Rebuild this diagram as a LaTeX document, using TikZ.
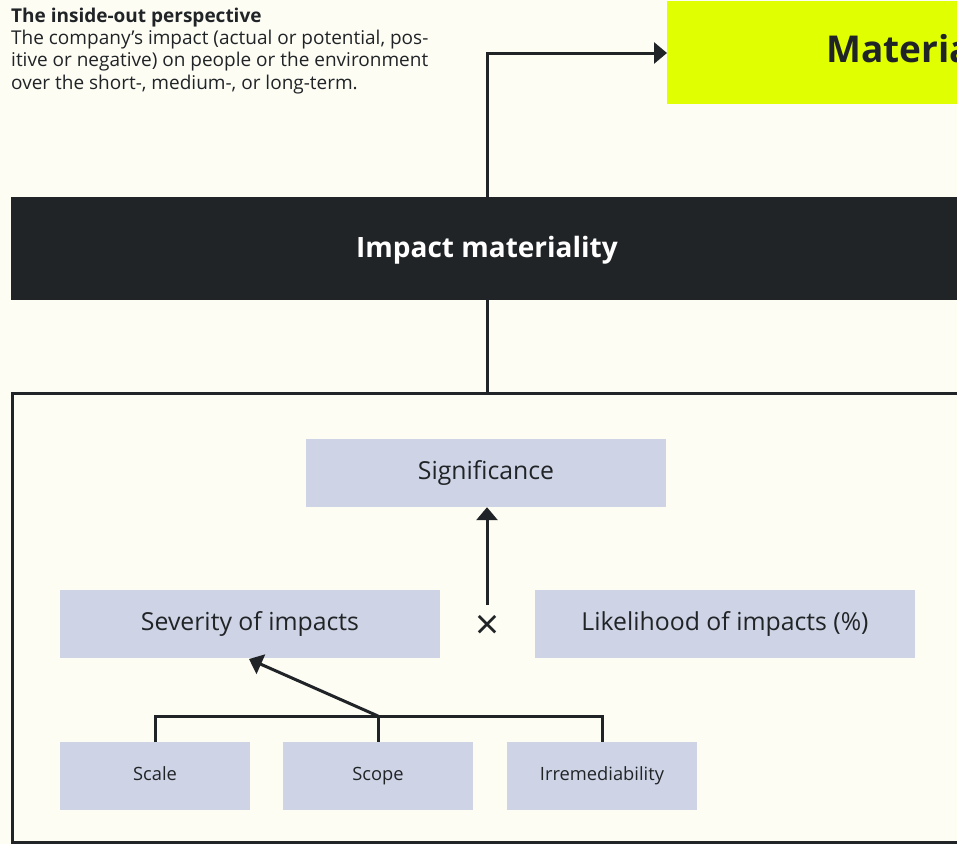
\documentclass[tikz,border=0pt]{standalone}
\usepackage{fontspec}
\setmainfont{Open Sans}
\usetikzlibrary{arrows.meta}
\definecolor{bg}{HTML}{FDFDF4}
\definecolor{ink}{HTML}{212427}
\definecolor{lime}{HTML}{E0FF00}
\definecolor{pale}{HTML}{CED4E5}
\tikzset{
  conn/.style={draw=ink, line width=3pt},
  arr/.style={conn, -{Triangle[length=13pt,width=21pt]}},
  boxA/.style={fill=pale, inner sep=0pt, font=\fontsize{24.8}{28}\selectfont, text=ink, text height=18pt, text depth=5pt},
  boxB/.style={fill=pale, inner sep=0pt, font=\fontsize{18.3}{21}\selectfont, text=ink, text height=13pt, text depth=4pt},
}
\begin{document}
\begin{tikzpicture}[x=1pt,y=-1pt]
\useasboundingbox (0,0) rectangle (957,844);
\clip (0,0) rectangle (957,844);
\fill[bg] (0,0) rectangle (957,844);
% header text
\node[anchor=north west, inner sep=0pt, align=left, text=ink, font=\fontsize{19}{22.3}\selectfont] (hdr) at (11,7.5)
 {\textbf{The inside-out perspective}\\The company’s impact (actual or potential, pos-\\itive or negative) on people or the environment\\over the short-, medium-, or long-term.};
% lime box
\fill[lime] (667,1) rectangle (1300,104);
\node[anchor=west, inner sep=0pt, text=ink, font=\bfseries\fontsize{37}{40}\selectfont] (mat) at (826,53) {Materiality};
\coordinate (matw) at (667,53);
% dark band
\fill[ink] (11,197) rectangle (1300,300);
\node[text=white, font=\bfseries\fontsize{28}{32}\selectfont] (imp) at (487,250) {Impact materiality};
\coordinate (impt) at (487,197);
\coordinate (impb) at (487,300);
\coordinate (corner) at (487,53);
\draw[arr] (impt) -- (corner) -- (matw);
% frame
\draw[conn] (1300,393) -- (12,393) -- (12,842) -- (1300,842);
\coordinate (framet) at (487,393);
\draw[conn] (impb) -- (framet);
% boxes
\node[boxA, minimum width=360pt, minimum height=68pt] (sig) at (486,473) {Significance};
\node[boxA, minimum width=380pt, minimum height=68pt] (sev) at (250,624) {Severity of impacts};
\node[boxA, minimum width=380pt, minimum height=68pt] (lik) at (725,624) {Likelihood of impacts (\%)};
\node[text=ink, inner sep=0pt, font=\fontsize{42}{42}\selectfont] (times) at (487,627) {×};
\coordinate (tup) at (487,605);
\draw[arr] (tup) -- (sig.south -| tup);
\node[boxB, minimum width=190pt, minimum height=68pt] (scale) at (155,776) {Scale};
\node[boxB, minimum width=190pt, minimum height=68pt] (scope) at (378,776) {Scope};
\node[boxB, minimum width=190pt, minimum height=68pt] (irr) at (602,776) {Irremediability};
\coordinate (hub) at (378,716);
\draw[conn] (scale.north) |- (hub) -| (irr.north);
\draw[conn] (scope.north) -- (hub);
\coordinate (sevtip) at (249,659);
\draw[arr] (hub) -- (sevtip);
\end{tikzpicture}
\end{document}
